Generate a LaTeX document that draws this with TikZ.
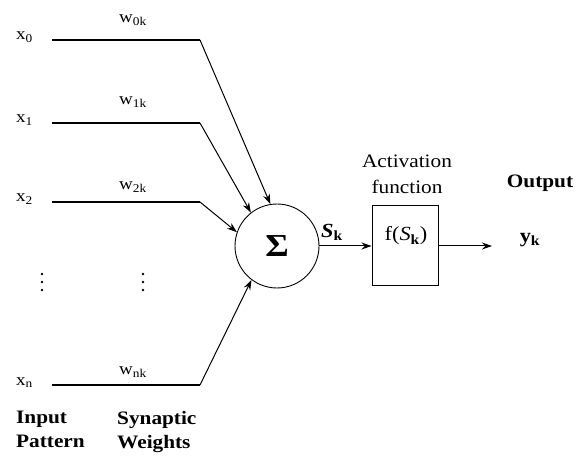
\documentclass[tikz,border=0pt]{standalone}
\usepackage{fontspec}
\setmainfont{Liberation Serif}[FakeStretch=1.12]
\usetikzlibrary{arrows.meta,positioning}

\begin{document}
\begin{tikzpicture}[x=1pt, y=-1pt,
  lbl/.style={font=\fontsize{17}{20}\selectfont, inner sep=0pt},
  sig/.style={font=\fontsize{20}{24}\selectfont, inner sep=0pt},
  head/.style={font=\fontsize{19}{24}\selectfont\bfseries, inner sep=0pt, align=left},
  wire/.style={line width=1.6pt},
  feed/.style={line width=1pt, -{Stealth[length=10pt,width=7pt]}}]
  \useasboundingbox (0,0) rectangle (576,457);

  % summing junction
  \node[circle, draw, line width=0.9pt, minimum size=84pt, inner sep=0pt] (sum) at (277,246)
    {\fontsize{32}{32}\selectfont\bfseries Σ};

  % activation box
  \node[draw, line width=1pt, minimum width=66pt, minimum height=80pt] (act) at (405,246) {};
  \node[sig] (fs) at (406,236) {f(\textit{S}\textsubscript{\textbf{k}})};

  % inputs and weights
  \foreach \n/\y/\ang/\wy in {0/40/99/20, 1/123/128/102, 2/202/161/187, n/385/233/372}{
    \node[lbl, anchor=base west] (x\n) at (16,\y) {x\textsubscript{\n}};
    \coordinate (s\n) at (52,\y);
    \coordinate (c\n) at (200,\y);
    \node[lbl] (w\n) at (133,\wy) {w\textsubscript{\n k}};
    \draw[wire] (s\n) -- (c\n);
    \draw[feed] (c\n) -- (sum.\ang);
  }

  % dots
  \foreach \dx in {42,143}
    \foreach \dy in {274,282,290}
      \fill (\dx,\dy) circle (1.4pt);

  % output side
  \coordinate (out) at (492,246);
  \draw[feed] (sum.east) -- (act.west);
  \draw[feed] (act.east) -- (out);
  \node[sig] (sk) at (332,232) {\textit{\textbf{S}}\textsubscript{\textbf{k}}};
  \node[sig] (yk) at (530,240) {\textbf{y}\textsubscript{\textbf{k}}};

  % captions
  \node[head, font=\fontsize{19}{26}\selectfont, align=center] (actlbl) at (407,174) {Activation\\function};
  \node[head] (outlbl) at (540,183) {Output};
  \node[head, anchor=north west] (inlbl) at (16,411) {Input\\Pattern};
  \node[head, anchor=north west] (swlbl) at (117,411) {Synaptic\\Weights};
\end{tikzpicture}
\end{document}
